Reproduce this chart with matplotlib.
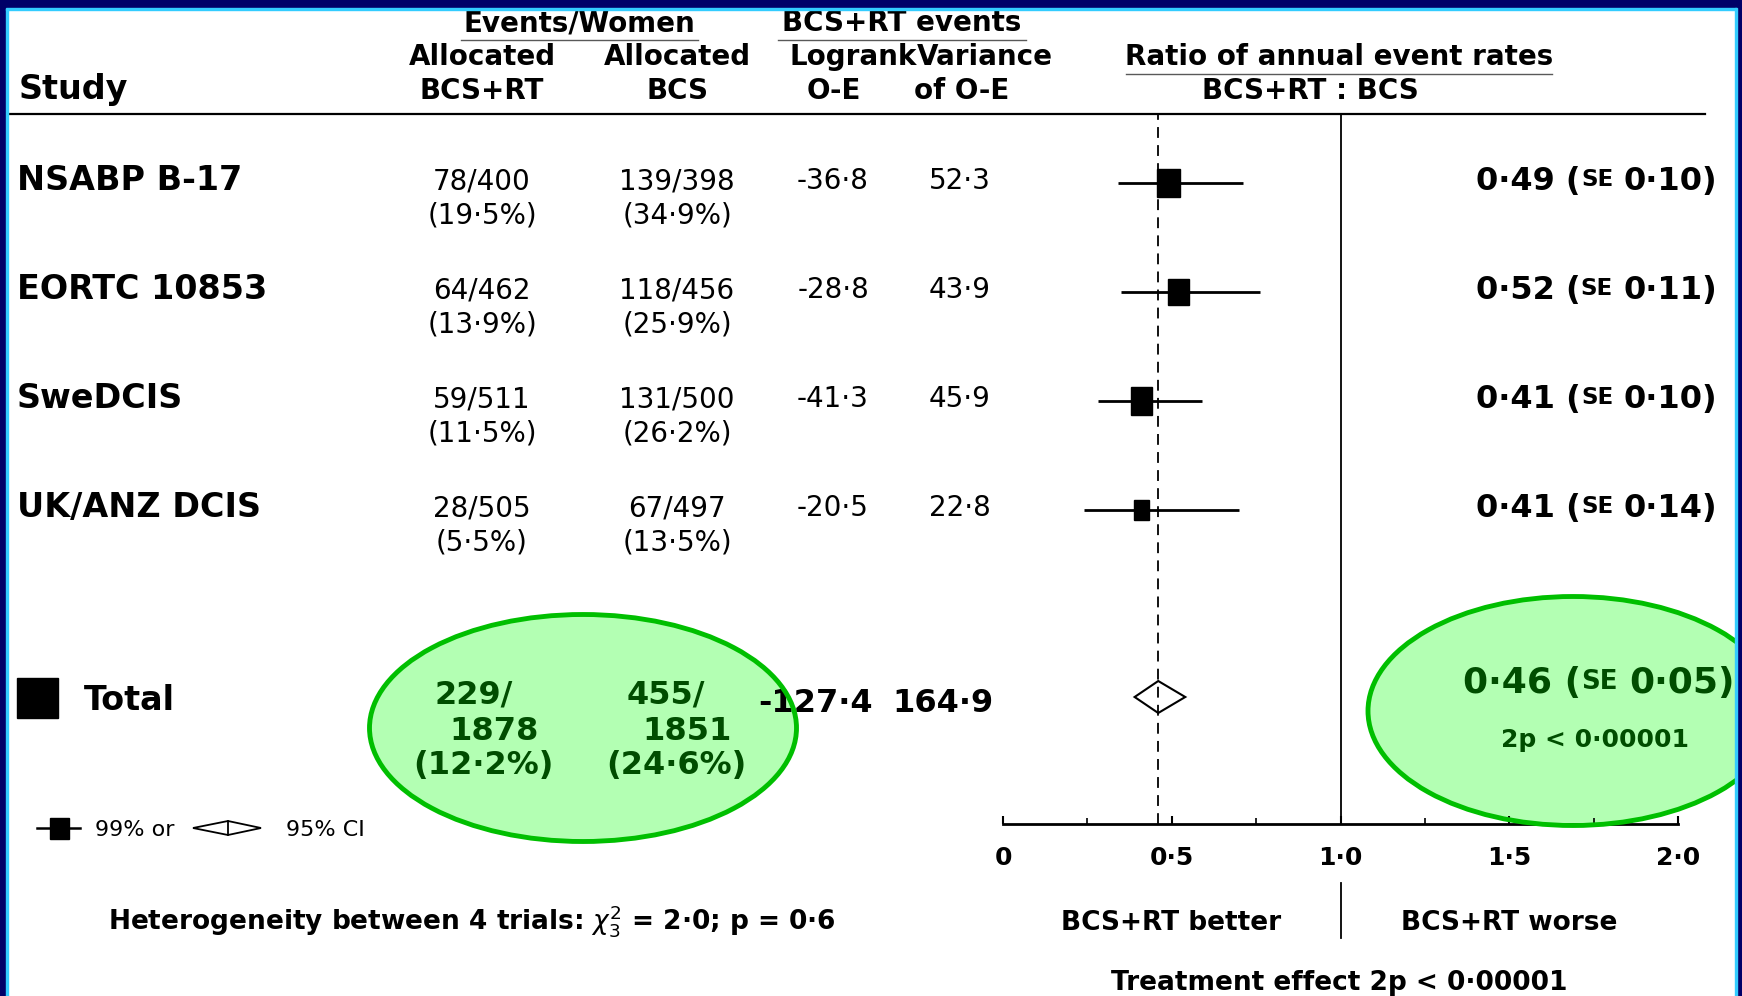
import matplotlib
matplotlib.use('Agg')
import matplotlib.pyplot as plt
from matplotlib.patches import Rectangle, Ellipse, Polygon
import numpy as np

plt.rcParams['font.family'] = ['DejaVu Sans']

# ---------------- data ----------------
studies = ["NSABP B-17", "EORTC 10853", "SweDCIS", "UK/ANZ DCIS"]
events_rt = [78, 64, 59, 28]
women_rt = [400, 462, 511, 505]
events_bcs = [139, 118, 131, 67]
women_bcs = [398, 456, 500, 497]
logrank_oe = [-36.8, -28.8, -41.3, -20.5]
variance_oe = [52.3, 43.9, 45.9, 22.8]
ratio = [0.49, 0.52, 0.41, 0.41]
ratio_se = [0.10, 0.11, 0.10, 0.14]
ci_low = [0.34, 0.35, 0.28, 0.24]
ci_high = [0.71, 0.76, 0.59, 0.70]

total_events_rt, total_women_rt = 229, 1878
total_events_bcs, total_women_bcs = 455, 1851
total_oe, total_var = -127.4, 164.9
total_ratio, total_se = 0.46, 0.05
total_ci = [0.39, 0.54]
p_text = "2p < 0·00001"

x_ticks = [0, 0.5, 1.0, 1.5, 2.0]
x_minor = [0.25, 0.75, 1.25, 1.75]
x_tick_labels = ["0", "0·5", "1·0", "1·5", "2·0"]
het_trials, het_chi2, het_p = 4, "2·0", "0·6"

# ---------------- helpers ----------------
W, H = 1742, 996
PX = 100 / 72
GREEN_TXT = '#004d00'
FILL = '#b3ffb3'
EDGE = '#00bf00'


def fmt(v, d=1):
    return f"{v:.{d}f}".replace('.', '·')


def pct(e, n):
    return fmt(100 * e / n, 1)


fig = plt.figure(figsize=(W / 100, H / 100), dpi=100)
fig.patch.set_facecolor('white')
bg = fig.add_axes([0, 0, 1, 1], zorder=0)
bg.set_xlim(0, W)
bg.set_ylim(H, 0)
bg.axis('off')

top = fig.add_axes([0, 0, 1, 1], zorder=2)
top.set_xlim(0, W)
top.set_ylim(H, 0)
top.axis('off')
top.patch.set_visible(False)


def txt(ax, x, yc, s, size, bold=False, ha='center', color='black', **kw):
    base = yc + 0.729 * size * PX / 2
    return ax.text(x, base, s, fontsize=size, fontweight='bold' if bold else 'normal',
                   ha=ha, va='baseline', color=color, **kw)


renderer = fig.canvas.get_renderer()


def se_text(ax, x_right, yc, r, se, size, color='black'):
    parts = [(fmt(r, 2) + " (", size), ("SE", size * 0.72), (fmt(se, 2) + ")", size)]
    gap = size * PX * 0.32
    x = x_right
    for i, (s, sz) in enumerate(reversed(parts)):
        t = txt(ax, x, yc, s, sz, bold=True, ha='right', color=color)
        w = t.get_window_extent(renderer).width
        x -= w
        if i == 0:
            x -= gap


# ---------------- header ----------------
txt(bg, 19, 87, "Study", 24, bold=True, ha='left')
txt(bg, 579, 21, "Events/Women", 20, bold=True)
txt(bg, 482, 55, "Allocated", 20, bold=True)
txt(bg, 482, 89, "BCS+RT", 20, bold=True)
txt(bg, 677, 55, "Allocated", 20, bold=True)
txt(bg, 677, 89, "BCS", 20, bold=True)
txt(bg, 902, 21, "BCS+RT events", 20, bold=True)
txt(bg, 853, 55, "Logrank", 20, bold=True)
txt(bg, 985, 55, "Variance", 20, bold=True)
txt(bg, 834, 89, "O-E", 20, bold=True)
txt(bg, 962, 89, "of O-E", 20, bold=True)
txt(bg, 1339, 55, "Ratio of annual event rates", 20, bold=True)
txt(bg, 1310, 89, "BCS+RT : BCS", 20, bold=True)

bg.plot([461, 698], [40, 40], color='0.35', lw=1)
bg.plot([778, 1026], [40, 40], color='0.35', lw=1)
bg.plot([1126, 1552], [74, 74], color='0.35', lw=1)
bg.plot([8, 1705], [114, 114], color='black', lw=1.6)

# ---------------- rows ----------------
row_y = [183, 292, 401, 510]
for i, name in enumerate(studies):
    y = row_y[i] - 5
    txt(bg, 17, y, name, 24, bold=True, ha='left')
    txt(bg, 482, y + 1, f"{events_rt[i]}/{women_rt[i]}", 20)
    txt(bg, 482, y + 35, f"({pct(events_rt[i], women_rt[i])}%)", 20)
    txt(bg, 677, y + 1, f"{events_bcs[i]}/{women_bcs[i]}", 20)
    txt(bg, 677, y + 35, f"({pct(events_bcs[i], women_bcs[i])}%)", 20)
    txt(bg, 833, y + 1, fmt(logrank_oe[i]), 20)
    txt(bg, 960, y + 1, fmt(variance_oe[i]), 20)
    se_text(bg, 1717, y, ratio[i], ratio_se[i], 23)

# ---------------- total row ----------------
total_y = 697
bg.add_patch(Rectangle((17, 678), 41, 40, color='black'))
txt(bg, 84, 698, "Total", 24, bold=True, ha='left')

bg.add_patch(Ellipse((583, 728), 427, 227, facecolor=FILL, edgecolor='none'))
top.add_patch(Ellipse((583, 728), 427, 227, facecolor='none', edgecolor=EDGE, lw=3.5))
bg.add_patch(Ellipse((1573, 711), 410, 229, facecolor=FILL, edgecolor='none'))
top.add_patch(Ellipse((1573, 711), 410, 229, facecolor='none', edgecolor=EDGE, lw=3.5))

txt(top, 474, 692, f"{total_events_rt}/", 23, bold=True, color=GREEN_TXT)
txt(top, 494, 728, f"{total_women_rt}", 23, bold=True, color=GREEN_TXT)
txt(top, 483, 762, f"({pct(total_events_rt, total_women_rt)}%)", 23, bold=True, color=GREEN_TXT)
txt(top, 666, 692, f"{total_events_bcs}/", 23, bold=True, color=GREEN_TXT)
txt(top, 687, 728, f"{total_women_bcs}", 23, bold=True, color=GREEN_TXT)
txt(top, 676, 762, f"({pct(total_events_bcs, total_women_bcs)}%)", 23, bold=True, color=GREEN_TXT)

txt(bg, 816, 700, fmt(total_oe), 23, bold=True)
txt(bg, 943, 700, fmt(total_var), 23, bold=True)

se_text(top, 1735, 680, total_ratio, total_se, 26, color=GREEN_TXT)
txt(top, 1595, 738, p_text, 18, bold=True, color=GREEN_TXT)

# ---------------- legend ----------------
bg.plot([37, 80], [828, 828], color='black', lw=1.8)
bg.add_patch(Rectangle((50, 818), 19, 21, color='black'))
txt(bg, 95, 828, "99% or", 16, ha='left')
bg.add_patch(Polygon([(193, 828), (228, 821), (261, 828), (228, 835)], closed=True,
                     fill=False, edgecolor='black', lw=1.3))
bg.plot([228, 228], [821, 835], color='black', lw=1.3)
txt(bg, 286, 828, "95% CI", 16, ha='left')

txt(bg, 108, 920,
    f"Heterogeneity between {het_trials} trials: $\\chi^2_3$ = {het_chi2}; p = {het_p}",
    19, bold=True, ha='left')

# ---------------- forest axes ----------------
x0, x1, ytop, ybot = 1003, 1678, 114, 824
ax = fig.add_axes([x0 / W, 1 - ybot / H, (x1 - x0) / W, (ybot - ytop) / H], zorder=1)
ax.set_xlim(0, 2)
ax.set_ylim(ybot, ytop)
ax.patch.set_visible(False)
for s in ['top', 'right', 'left']:
    ax.spines[s].set_visible(False)
ax.spines['bottom'].set_linewidth(2)
ax.set_yticks([])
ax.set_xticks(x_ticks)
ax.set_xticklabels(x_tick_labels, fontsize=18, fontweight='bold')
ax.set_xticks(x_minor, minor=True)
ax.tick_params(axis='x', which='major', direction='in', length=6, width=1.5, pad=16)
ax.tick_params(axis='x', which='minor', direction='in', length=4, width=1.2)

ax.axvline(total_ratio, color='black', lw=1.3, ls=(0, (6, 4)))
ax.axvline(1.0, color='black', lw=1.3)
ax.plot([1.0, 1.0], [883, 938], color='black', lw=1.3, clip_on=False)

ax.hlines(row_y, ci_low, ci_high, color='black', lw=2.0)
px_per_unit = (x1 - x0) / 2.0
for i in range(len(studies)):
    side = 3.2 * np.sqrt(variance_oe[i])
    w = side / px_per_unit
    h = side * 1.25
    ax.add_patch(Rectangle((ratio[i] - w / 2, row_y[i] - h / 2), w, h,
                           color='black', zorder=3))

ax.add_patch(Polygon([(total_ci[0], total_y), (total_ratio, total_y - 16),
                      (total_ci[1], total_y), (total_ratio, total_y + 16)],
                     closed=True, fill=False, edgecolor='black', lw=1.5))

txt(bg, 1171, 920, "BCS+RT better", 19, bold=True)
txt(bg, 1509, 920, "BCS+RT worse", 19, bold=True)
txt(bg, 1339, 980, "Treatment effect " + p_text, 19, bold=True)

# ---------------- border ----------------
NAVY = '#000068'
CYAN = '#33ccff'
top.add_patch(Rectangle((0, 0), 6, H, color=NAVY, zorder=10))
top.add_patch(Rectangle((6, 8), 2, H, color=CYAN, zorder=10))
top.add_patch(Rectangle((0, 0), W, 8, color=NAVY, zorder=10))
top.add_patch(Rectangle((6, 8), 1731, 2, color=CYAN, zorder=10))
top.add_patch(Rectangle((1737, 0), 5, H, color=NAVY, zorder=10))
top.add_patch(Rectangle((1735, 8), 2, H, color=CYAN, zorder=10))

fig.savefig('out.png', dpi=100, facecolor='white')
